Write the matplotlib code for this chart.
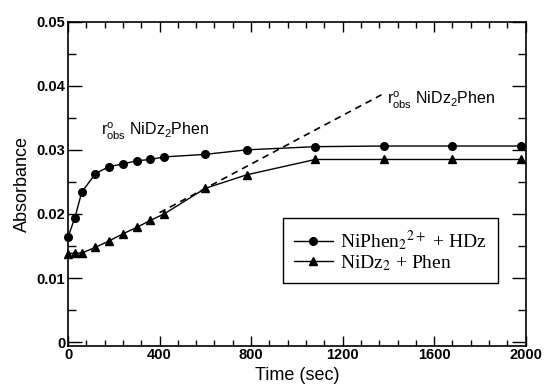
import matplotlib
matplotlib.use("Agg")
import matplotlib.pyplot as plt
from matplotlib.ticker import MultipleLocator, FixedFormatter, FixedLocator

plt.rcParams['font.family'] = ['Liberation Sans', 'DejaVu Sans']
plt.rcParams['mathtext.fontset'] = 'custom'
plt.rcParams['mathtext.rm'] = 'Liberation Sans'
plt.rcParams['mathtext.it'] = 'Liberation Sans:italic'

# NiPhen2(2+) + HDz
tCirc = [0, 30, 60, 120, 180, 240, 300, 360, 420, 600, 780, 1080, 1380, 1680, 1980]
aCirc = [0.0164, 0.0194, 0.0234, 0.0263, 0.0274, 0.0278, 0.0283, 0.0285, 0.0289,
         0.0293, 0.0300, 0.0305, 0.0306, 0.0306, 0.0306]

# NiDz2 + Phen
tTri = [0, 30, 60, 120, 180, 240, 300, 360, 420, 600, 780, 1080, 1380, 1680, 1980]
aTri = [0.0138, 0.0139, 0.0139, 0.0148, 0.0158, 0.0169, 0.0179, 0.0190, 0.0200,
        0.0240, 0.0261, 0.0285, 0.0285, 0.0285, 0.0285]

# initial rate line
tDash = [400, 1370]
aDash = [0.0202, 0.0386]

yTicks = [0, 0.01, 0.02, 0.03, 0.04, 0.05]
yTickLabels = ["0", "0.01", "0.02", "0.03", "0.04", "0.05"]
xTicks = [0, 400, 800, 1200, 1600, 2000]

annText = r"r$^{\mathrm{o}}_{\mathrm{obs}}$ NiDz$_2$Phen"

fig = plt.figure(figsize=(5.45, 3.85), dpi=100)
ax = fig.add_axes([0.1248, 0.1021, 0.8398, 0.8415])

ax.plot(tCirc, aCirc, 'k-o', lw=1.0, ms=5.5, clip_on=False, zorder=4,
        label=r"NiPhen$_2$$^{2+}$ + HDz")
ax.plot(tTri, aTri, 'k-^', lw=1.0, ms=6, clip_on=False, zorder=4,
        label=r"NiDz$_2$ + Phen")
ax.plot(tDash, aDash, 'k--', lw=1.2, dashes=(4, 3))

# annotations placed in axes fraction
ax.text(0.072, 0.662, annText, fontsize=11.5, transform=ax.transAxes,
        va='center', ha='left')
ax.text(0.696, 0.758, annText, fontsize=11.5, transform=ax.transAxes,
        va='center', ha='left')

ax.set_xlim(0, 2000)
ax.set_ylim(-0.00056, 0.05)
ax.xaxis.set_major_locator(FixedLocator(xTicks))
ax.xaxis.set_minor_locator(MultipleLocator(80))
ax.yaxis.set_major_locator(FixedLocator(yTicks))
ax.yaxis.set_major_formatter(FixedFormatter(yTickLabels))
ax.yaxis.set_minor_locator(MultipleLocator(0.005))

ax.tick_params(which='both', direction='in', top=True, right=True, width=1.0)
ax.tick_params(axis='x', which='major', length=7, pad=2)
ax.tick_params(axis='x', which='minor', length=4)
ax.tick_params(axis='y', which='major', length=10, pad=2)
ax.tick_params(axis='y', which='minor', length=6)
for lab in ax.get_xticklabels() + ax.get_yticklabels():
    lab.set_fontweight('bold')
    lab.set_fontsize(10.5)
for sp in ax.spines.values():
    sp.set_linewidth(1.2)

ax.set_xlabel("Time (sec)", fontsize=13, labelpad=3)
ax.set_ylabel("Absorbance", fontsize=13, labelpad=4)

leg = ax.legend(loc='lower left', bbox_to_anchor=(0.470, 0.192), frameon=True,
                fancybox=False, edgecolor='black', framealpha=1,
                prop={'family': 'Liberation Serif', 'size': 14, 'math_fontfamily': 'stix'},
                handlelength=2.0, handletextpad=0.4, borderpad=0.55, labelspacing=0.0,
                borderaxespad=0)
leg.get_frame().set_linewidth(1.0)

fig.savefig("out.png", dpi=100)
